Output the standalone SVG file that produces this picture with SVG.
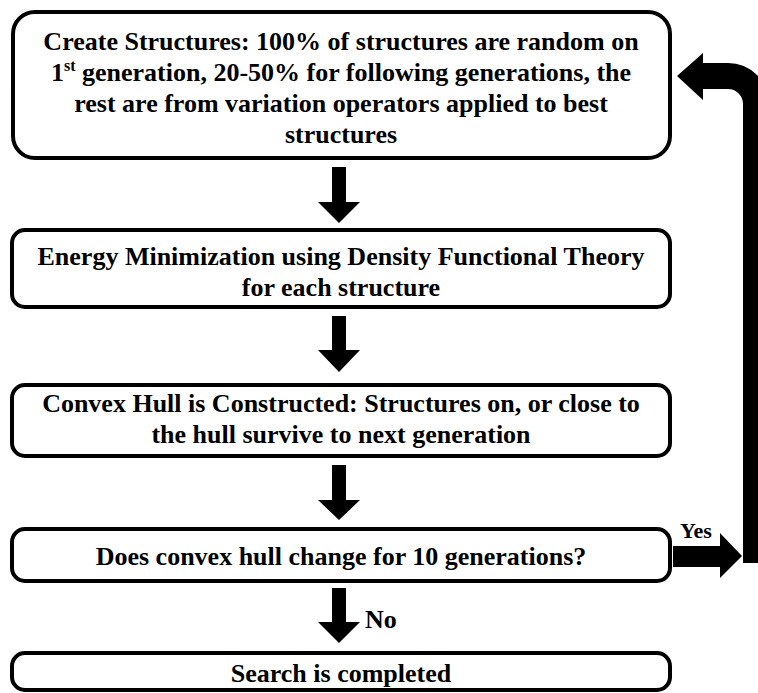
<svg xmlns="http://www.w3.org/2000/svg" width="758" height="693" viewBox="0 0 758 693">
<style>
.box{fill:#fff;stroke:#000;stroke-width:4}
.t{font-family:"Liberation Serif","Times New Roman",serif;font-weight:bold;font-size:26px;fill:#000;text-anchor:middle}
.lbl{font-family:"Liberation Serif","Times New Roman",serif;font-weight:bold;fill:#000}
.arr{fill:#000;stroke:none}
</style>
<rect width="758" height="693" fill="#fff"/>
<g id="connectors">
<path class="arr" d="M332 167 H346 V202 H360 L339 223 L318 202 H332 Z"/>
<path class="arr" d="M332 316 H346 V350 H360 L339 372 L318 350 H332 Z"/>
<path class="arr" d="M332 465 H346 V500 H360 L339 520 L318 500 H332 Z"/>
<path class="arr" d="M332 588 H346 V622 H360 L339 643 L318 622 H332 Z"/>
<path class="arr" d="M673 546 H720 V533 L742 556 L720 578 V567 H673 Z"/>
<path class="arr" d="M743 563 L743 104 A15 15 0 0 0 728 89 L703 89 L703 100 L677 76 L703 53 L703 63 L728 63 A41 41 0 0 1 769 104 L769 563 Z"/>
<text class="lbl" x="680" y="538" font-size="22">Yes</text>
<text class="lbl" x="365" y="628" font-size="26">No</text>
</g>
<g id="create">
<rect class="box" x="13" y="12" width="657" height="146" rx="22"/>
<text class="t" x="341" y="50">Create Structures: 100% of structures are random on</text>
<text class="t" x="341" y="81">1<tspan font-size="16" dy="-10">st</tspan><tspan dy="10"> generation, 20-50% for following generations, the</tspan></text>
<text class="t" x="341" y="112">rest are from variation operators applied to best</text>
<text class="t" x="341" y="143">structures</text>
</g>
<g id="energy">
<rect class="box" x="12" y="230" width="658" height="77" rx="13"/>
<text class="t" x="341" y="265">Energy Minimization using Density Functional Theory</text>
<text class="t" x="341" y="296">for each structure</text>
</g>
<g id="hull">
<rect class="box" x="12" y="385" width="658" height="71" rx="13"/>
<text class="t" x="341" y="412">Convex Hull is Constructed: Structures on, or close to</text>
<text class="t" x="341" y="443">the hull survive to next generation</text>
</g>
<g id="decision">
<rect class="box" x="12" y="529" width="658" height="52" rx="13"/>
<text class="t" x="341" y="565">Does convex hull change for 10 generations?</text>
</g>
<g id="done">
<rect class="box" x="12" y="653" width="658" height="37" rx="13"/>
<text class="t" x="341" y="682">Search is completed</text>
</g>
</svg>
